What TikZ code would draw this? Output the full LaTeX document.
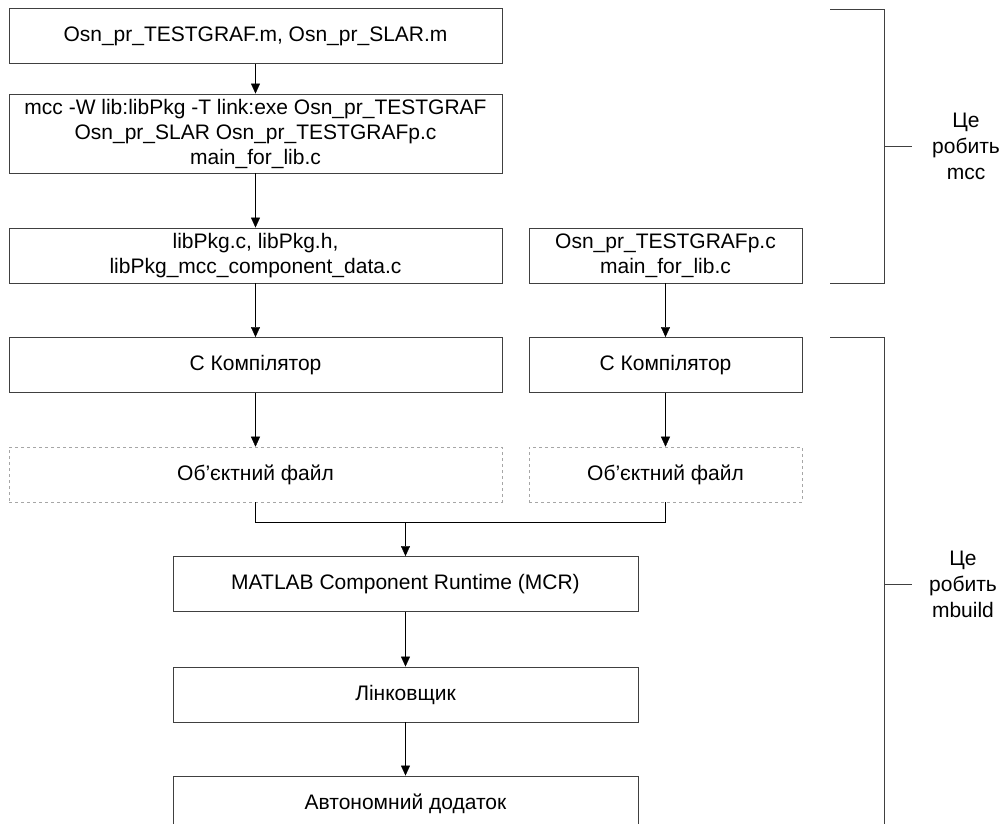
\documentclass[tikz,border=0pt]{standalone}
\usepackage{fontspec}
\setmainfont{Liberation Sans}
\usetikzlibrary{arrows.meta}

\begin{document}
\begin{tikzpicture}[x=1pt,y=-1pt,>={Triangle[length=10pt,width=9pt]},
  box/.style={draw=black!75,line width=0.9pt,minimum height=55pt,inner sep=0pt,align=center,font=\fontsize{21}{25}\selectfont},
  wide/.style={box,minimum width=493pt},
  narrow/.style={box,minimum width=273pt},
  mid/.style={box,minimum width=465pt},
  objbox/.style={draw=gray!70,dashed,line width=0.6pt},
  lbl/.style={align=center,font=\fontsize{21}{26}\selectfont}]
\useasboundingbox (0,0) rectangle (1004,823);
\clip (0,0) rectangle (1004,823);
\node[wide] (srcm) at (255.5,36) {Osn\_pr\_TESTGRAF.m, Osn\_pr\_SLAR.m};
\node[wide,minimum height=79pt] (mcc) at (255.5,133.5) {mcc -W lib:libPkg -T link:exe Osn\_pr\_TESTGRAF\\Osn\_pr\_SLAR Osn\_pr\_TESTGRAFp.c\\main\_for\_lib.c};
\node[wide] (gen) at (255.5,255.5) {libPkg.c, libPkg.h,\\libPkg\_mcc\_component\_data.c};
\node[narrow] (srcc) at (665.5,255.5) {Osn\_pr\_TESTGRAFp.c\\main\_for\_lib.c};
\node[wide] (compL) at (255.5,365) {С Компілятор};
\node[narrow] (compR) at (665.5,365) {С Компілятор};
\node[wide,objbox] (objL) at (255.5,474.5) {Об’єктний файл};
\node[narrow,objbox] (objR) at (665.5,474.5) {Об’єктний файл};
\coordinate (join) at (405.5,522);
\node[mid] (mcr) at (405.5,584) {MATLAB Component Runtime (MCR)};
\node[mid] (link) at (405.5,694.5) {Лінковщик};
\node[mid] (app) at (405.5,803.5) {Автономний додаток};
\draw[->] (srcm) -- (mcc);
\draw[->] (mcc) -- (gen);
\draw[->] (gen) -- (compL);
\draw[->] (srcc) -- (compR);
\draw[->] (compL) -- (objL);
\draw[->] (compR) -- (objR);
\draw (objL.south) |- (join) -| (objR.south);
\draw[->] (join) -- (mcr);
\draw[->] (mcr) -- (link);
\draw[->] (link) -- (app);
\draw[black!75] (830,9) -- (884,9) -- (884,283) -- (830,283);
\draw[black!75] (884,146) -- (912,146);
\node[lbl] (mccl) at (966,146) {Це\\робить\\mcc};
\draw[black!75] (830,337) -- (884,337) -- (884,830);
\draw[black!75] (884,584) -- (912,584);
\node[lbl] (mbl) at (963,584) {Це\\робить\\mbuild};
\end{tikzpicture}
\end{document}
